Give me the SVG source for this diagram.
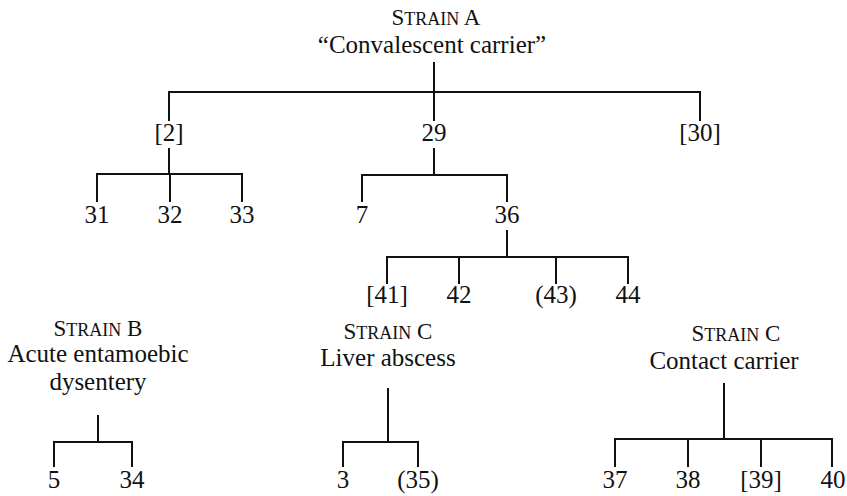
<svg xmlns="http://www.w3.org/2000/svg" width="847" height="496" viewBox="0 0 847 496">
<style>
  .bg { fill: #ffffff; }
  text { font-family: "Liberation Serif", "Times New Roman", serif; fill: #111; text-anchor: middle; }
  .num { font-size: 25px; }
  .desc { font-size: 25px; }
  .title { font-size: 23px; }
  .sc { font-size: 18px; }
  .conn { fill: none; stroke: #111; stroke-width: 2; stroke-linejoin: miter; }
</style>
<rect class="bg" x="0" y="0" width="847" height="496"/>

<g id="connectors">
  <path class="conn" d="M434 62 V92 M169 121 V92 H700 V121 M434 92 V121"/>
  <path class="conn" d="M169 148 V174 M97 202 V174 H242 V202 M170 174 V202"/>
  <path class="conn" d="M434 148 V175 M362 202 V175 H507 V202"/>
  <path class="conn" d="M507 230 V257 M387 284 V257 H628 V284 M459 257 V284 M556 257 V284"/>
  <path class="conn" d="M98 415 V442 M54 467 V442 H132 V467"/>
  <path class="conn" d="M388 388 V442 M343 467 V442 H418 V467"/>
  <path class="conn" d="M724 383 V439 M615 467 V439 H832 V467 M688 439 V467 M761 439 V467"/>
</g>

<g id="strainA">
  <text class="title" x="436" y="25">S<tspan class="sc">TRAIN</tspan> A</text>
  <text class="desc" x="432" y="53" font-size="26">“Convalescent carrier”</text>
</g>
<g id="n2"><text class="num" x="169" y="141">[2]</text></g>
<g id="n29"><text class="num" x="434" y="141">29</text></g>
<g id="n30"><text class="num" x="700" y="141">[30]</text></g>
<g id="n31"><text class="num" x="97" y="223">31</text></g>
<g id="n32"><text class="num" x="170" y="223">32</text></g>
<g id="n33"><text class="num" x="242" y="223">33</text></g>
<g id="n7"><text class="num" x="362" y="223">7</text></g>
<g id="n36"><text class="num" x="507" y="223">36</text></g>
<g id="n41"><text class="num" x="387" y="303">[41]</text></g>
<g id="n42"><text class="num" x="459" y="303">42</text></g>
<g id="n43"><text class="num" x="556" y="303">(43)</text></g>
<g id="n44"><text class="num" x="628" y="303">44</text></g>

<g id="strainB">
  <text class="title" x="98" y="336">S<tspan class="sc">TRAIN</tspan> B</text>
  <text class="desc" x="98" y="362">Acute entamoebic</text>
  <text class="desc" x="98" y="390">dysentery</text>
</g>
<g id="n5"><text class="num" x="54" y="488">5</text></g>
<g id="n34"><text class="num" x="132" y="488">34</text></g>

<g id="strainC-liver">
  <text class="title" x="388" y="339">S<tspan class="sc">TRAIN</tspan> C</text>
  <text class="desc" x="388" y="366">Liver abscess</text>
</g>
<g id="n3"><text class="num" x="343" y="488">3</text></g>
<g id="n35"><text class="num" x="418" y="488">(35)</text></g>

<g id="strainC-contact">
  <text class="title" x="736" y="341">S<tspan class="sc">TRAIN</tspan> C</text>
  <text class="desc" x="724" y="369" font-size="26">Contact carrier</text>
</g>
<g id="n37"><text class="num" x="615" y="488">37</text></g>
<g id="n38"><text class="num" x="688" y="488">38</text></g>
<g id="n39"><text class="num" x="761" y="488">[39]</text></g>
<g id="n40"><text class="num" x="833" y="488">40</text></g>
</svg>
